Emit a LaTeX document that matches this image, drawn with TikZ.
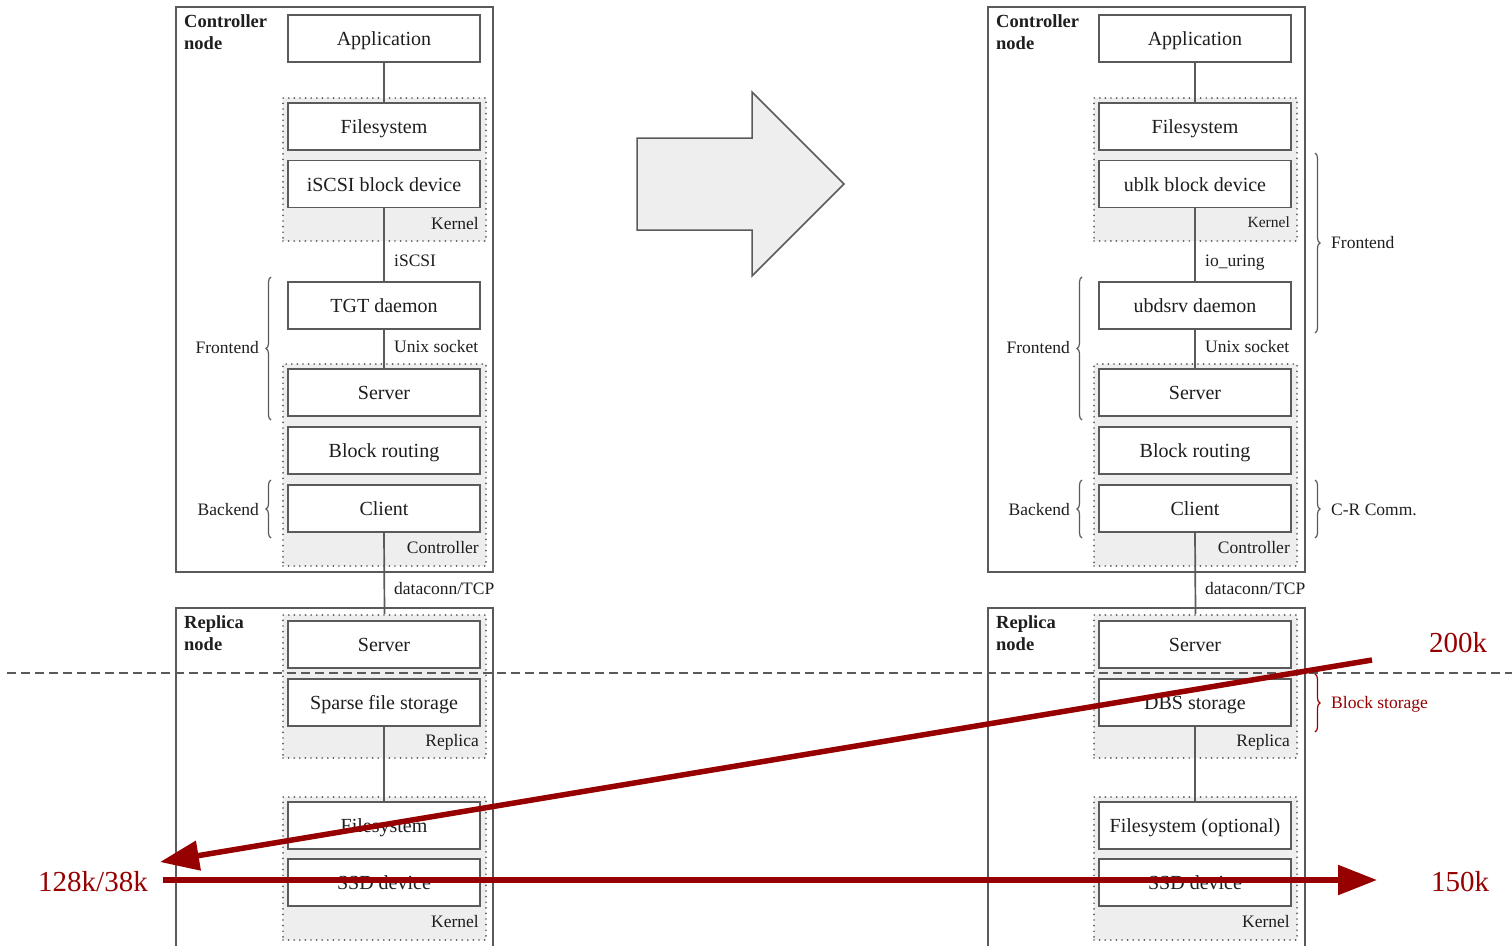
\documentclass[tikz,border=0pt]{standalone}
\usepackage{fontspec}
\setmainfont{Liberation Serif}
\usetikzlibrary{arrows.meta,decorations.pathreplacing}
\definecolor{ink}{HTML}{1E1E1E}
\definecolor{edge}{HTML}{5A5A5A}
\definecolor{shade}{HTML}{EEEEEE}
\definecolor{hot}{RGB}{150,0,0}

\tikzset{
  layer/.style={draw=edge, line width=1.7pt, fill=white, minimum width=192pt,
    minimum height=47pt, inner sep=0pt, text=ink, font=\fontsize{20}{22}\selectfont,
    text height=18pt, text depth=4pt},
  group/.style={draw=edge, line width=1.9pt, dash pattern=on 0pt off 5.6pt,
    line cap=round, fill=shade, minimum width=203pt, inner sep=0pt},
  hostbox/.style={draw=edge, line width=1.7pt},
  link/.style={draw=edge, line width=1.7pt},
  tag/.style={text=ink, font=\fontsize{17.5}{20}\selectfont, inner sep=0pt,
    text height=14pt, text depth=1pt},
  smalltag/.style={text=ink, font=\fontsize{15.5}{17}\selectfont, inner sep=0pt,
    text height=13pt, text depth=1pt},
  hosttag/.style={text=ink, font=\fontsize{18.5}{22}\selectfont\bfseries,
    align=left, inner sep=0pt, anchor=north west},
  curly/.style={draw=edge, line width=1.2pt, decorate, decoration={brace, amplitude=5pt}},
  rate/.style={draw=hot, line width=5.5pt, -{Triangle[length=39pt,width=29pt]}},
  ratetag/.style={text=hot, font=\fontsize{29}{32}\selectfont, inner sep=0pt,
    text height=21pt, text depth=5pt},
  bigarrow/.style={draw=edge, fill=shade, line width=1.5pt, line join=miter},
}

\begin{document}
\begin{tikzpicture}[x=1pt, y=-1pt]
\useasboundingbox (0,0) rectangle (1512,946);

% ---------- host frames ----------
\draw[hostbox] (176,7) rectangle (493,572);
\draw[hostbox] (176,946) -- (176,608) -- (493,608) -- (493,946);
\draw[hostbox] (988,7) rectangle (1305,572);
\draw[hostbox] (988,946) -- (988,608) -- (1305,608) -- (1305,946);

\node[hosttag] (hcL) at (184,14) {Controller\\node};
\node[hosttag] (hrL) at (184,615) {Replica\\node};
\node[hosttag] (hcR) at (996,14) {Controller\\node};
\node[hosttag] (hrR) at (996,615) {Replica\\node};

% ---------- shaded groups ----------
\node[group, minimum height=143pt] (kgL) at (384.5,169.5) {};
\node[group, minimum height=202pt] (cgL) at (384.5,465) {};
\node[group, minimum height=143pt] (rgL) at (384.5,686.5) {};
\node[group, minimum height=143pt] (sgL) at (384.5,868.5) {};
\node[group, minimum height=143pt] (kgR) at (1195.5,169.5) {};
\node[group, minimum height=202pt] (cgR) at (1195.5,465) {};
\node[group, minimum height=143pt] (rgR) at (1195.5,686.5) {};
\node[group, minimum height=143pt] (sgR) at (1195.5,868.5) {};

% ---------- separator between hosts ----------
\draw[draw=edge, line width=1.5pt, dash pattern=on 9pt off 5pt] (7,673) -- (1512,673);

% ---------- left stack ----------
\node[layer] (appL) at (384,38.5) {Application};
\node[layer] (fsL) at (384,126.5) {Filesystem};
\node[layer] (devL) at (384,184) {iSCSI block device};
\node[layer] (dmnL) at (384,305.5) {TGT daemon};
\node[layer] (srvL) at (384,392.5) {Server};
\node[layer] (rtL) at (384,450.5) {Block routing};
\node[layer] (cliL) at (384,508.5) {Client};
\node[layer] (rsrvL) at (384,644.5) {Server};
\node[layer] (stoL) at (384,702.5) {Sparse file storage};
\node[layer] (rfsL) at (384,825.5) {Filesystem};
\node[layer] (ssdL) at (384,882.5) {SSD device};

\draw[link] (appL.south) -- (fsL.north);
\draw[link] (devL.south) -- (dmnL.north);
\draw[link] (dmnL.south) -- (srvL.north);
\draw[link] (cliL.south) -- (rgL.north);
\draw[link] (stoL.south) -- (rfsL.north);

\node[tag, anchor=east] (kL) at (479,223) {Kernel};
\node[tag, anchor=east] (cL) at (479,547) {Controller};
\node[tag, anchor=east] (rL) at (479,740) {Replica};
\node[tag, anchor=east] (k2L) at (479,921) {Kernel};

\node[tag, anchor=west] (l1L) at (394,260) {iSCSI};
\node[tag, anchor=west] (l2L) at (394,346) {Unix socket};
\node[tag, anchor=west] (l3L) at (394,588) {dataconn/TCP};

\draw[curly] (271,420) -- (271,277);
\node[tag, anchor=east] (feL) at (259,347) {Frontend};
\draw[curly] (271,538) -- (271,480);
\node[tag, anchor=east] (beL) at (259,509) {Backend};

% ---------- transition arrow ----------
\draw[bigarrow] (637,138) -- (752,138) -- (752,92) -- (844,184) -- (752,276)
  -- (752,230) -- (637,230) -- cycle;

% ---------- right stack ----------
\node[layer] (appR) at (1195,38.5) {Application};
\node[layer] (fsR) at (1195,126.5) {Filesystem};
\node[layer] (devR) at (1195,184) {ublk block device};
\node[layer] (dmnR) at (1195,305.5) {ubdsrv daemon};
\node[layer] (srvR) at (1195,392.5) {Server};
\node[layer] (rtR) at (1195,450.5) {Block routing};
\node[layer] (cliR) at (1195,508.5) {Client};
\node[layer] (rsrvR) at (1195,644.5) {Server};
\node[layer] (stoR) at (1195,702.5) {DBS storage};
\node[layer] (rfsR) at (1195,825.5) {Filesystem (optional)};
\node[layer] (ssdR) at (1195,882.5) {SSD device};

\draw[link] (appR.south) -- (fsR.north);
\draw[link] (devR.south) -- (dmnR.north);
\draw[link] (dmnR.south) -- (srvR.north);
\draw[link] (cliR.south) -- (rgR.north);
\draw[link] (stoR.south) -- (rfsR.north);

\node[smalltag, anchor=east] (kR) at (1290,221) {Kernel};
\node[tag, anchor=east] (cR) at (1290,547) {Controller};
\node[tag, anchor=east] (rR) at (1290,740) {Replica};
\node[tag, anchor=east] (k2R) at (1290,921) {Kernel};

\node[tag, anchor=west] (l1R) at (1205,260) {io\_uring};
\node[tag, anchor=west] (l2R) at (1205,346) {Unix socket};
\node[tag, anchor=west] (l3R) at (1205,588) {dataconn/TCP};

\draw[curly] (1082,420) -- (1082,277);
\node[tag, anchor=east] (feR) at (1070,347) {Frontend};
\draw[curly] (1082,538) -- (1082,480);
\node[tag, anchor=east] (beR) at (1070,509) {Backend};

\draw[curly] (1315,153) -- (1315,333);
\node[tag, anchor=west] (fe2R) at (1331,242) {Frontend};
\draw[curly] (1315,480) -- (1315,538);
\node[tag, anchor=west] (crR) at (1331,509) {C-R Comm.};
\draw[curly, draw=hot] (1315,674) -- (1315,732);
\node[tag, anchor=west, text=hot] (bsR) at (1331,702) {Block storage};

% ---------- throughput annotations ----------
\node[ratetag] (t200) at (1458,644) {200k};
\node[ratetag] (t128) at (93,883) {128k/38k};
\node[ratetag] (t150) at (1460,883) {150k};

\coordinate (a1s) at (1372,660);
\coordinate (a1e) at (160,862);
\coordinate (a2s) at (163,880);
\coordinate (a2e) at (1377,880);
\draw[rate] (a1s) -- (a1e);
\draw[rate] (a2s) -- (a2e);
\end{tikzpicture}
\end{document}
